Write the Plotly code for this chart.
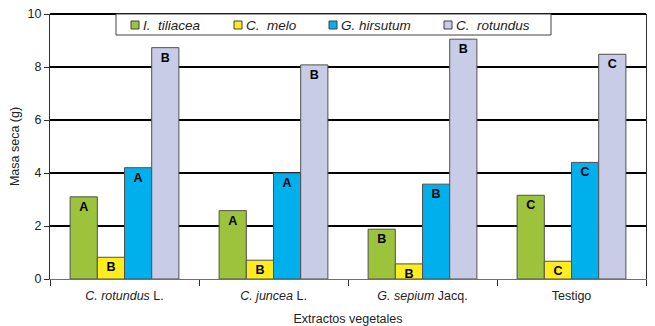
import plotly.graph_objects as go

categories = ["<i>C. rotundus</i> L.", "<i>C. juncea</i> L.", "<i>G. sepium</i> Jacq.", "Testigo"]
series_names = ["<i>I.  tiliacea</i>", "<i>C.  melo</i>", "<i>G. hirsutum</i>", "<i>C.  rotundus</i>"]
tiliacea = [3.1, 2.58, 1.88, 3.16]
melo = [0.82, 0.71, 0.57, 0.67]
hirsutum = [4.2, 4.0, 3.58, 4.4]
rotundus = [8.73, 8.08, 9.05, 8.48]
lab_tiliacea = ["A", "A", "B", "C"]
lab_melo = ["B", "B", "B", "C"]
lab_hirsutum = ["A", "A", "B", "C"]
lab_rotundus = ["B", "B", "B", "C"]
colors = ["#9dc33c", "#ffec1e", "#00b0ec", "#c8cce6"]

# page offset (default body margin) compensation
OFF = 8
W, H = 655 - OFF, 326 - OFF
PLOT_L, PLOT_R, PLOT_T, PLOT_B = 50, 646, 14, 279  # target page pixels
ML, MT = PLOT_L - OFF, PLOT_T - OFF
MR = W - (PLOT_R - OFF)
MB = H - (PLOT_B - OFF)
PW, PH = PLOT_R - PLOT_L, PLOT_B - PLOT_T


def px_x(px):
    return (px - PLOT_L) / PW


def px_y(py):
    return (PLOT_B - py) / PH


FONT = "Liberation Sans, Arial, sans-serif"
fig = go.Figure()
for name, vals, labs, col in zip(series_names,
                                 [tiliacea, melo, hirsutum, rotundus],
                                 [lab_tiliacea, lab_melo, lab_hirsutum, lab_rotundus],
                                 colors):
    fig.add_trace(go.Bar(
        x=categories, y=vals, name=name, showlegend=False,
        marker=dict(color=col, line=dict(color="#505050", width=1)),
        text=[f"<b>{l}</b>" for l in labs],
        textposition="inside", insidetextanchor="end",
        textfont=dict(family=FONT, size=12.5, color="black"),
        textangle=0, constraintext="none",
    ))

# top frame line (coincides with the 10 gridline)
shapes = [dict(type="line", xref="paper", yref="paper", x0=0, x1=1, y0=1, y1=1,
               line=dict(color="black", width=2), layer="below")]
# manual legend (box + swatches + labels)
shapes.append(dict(type="rect", xref="paper", yref="paper",
                   x0=px_x(116), x1=px_x(551), y0=px_y(35), y1=px_y(14),
                   fillcolor="white", line=dict(color="#404040", width=1), layer="above"))
annotations = []
legend_x = [131, 234, 329, 444]
for name, col, lx in zip(series_names, colors, legend_x):
    shapes.append(dict(type="rect", xref="paper", yref="paper",
                       x0=px_x(lx), x1=px_x(lx + 8), y0=px_y(29), y1=px_y(21),
                       fillcolor=col, line=dict(color="#404040", width=1), layer="above"))
    annotations.append(dict(xref="paper", yref="paper", x=px_x(lx + 10), y=px_y(25),
                            xanchor="left", yanchor="middle", showarrow=False,
                            text=name, font=dict(family=FONT, size=13.5, color="#222")))

fig.update_layout(
    width=W, height=H,
    margin=dict(l=ML, r=MR, t=MT, b=MB, autoexpand=False),
    paper_bgcolor="white", plot_bgcolor="white",
    barmode="group", bargap=0.27, bargroupgap=0,
    font=dict(family=FONT, size=12.5, color="#222"),
    showlegend=False,
    shapes=shapes, annotations=annotations,
    xaxis=dict(showline=True, linecolor="#707070", linewidth=1, automargin=False,
               ticks="outside", tickson="boundaries", ticklen=6, tickcolor="#303030",
               ticklabeloverflow="allow", ticklabelstandoff=5,
               title=dict(text="Extractos vegetales", standoff=13,
                          font=dict(family=FONT, size=12.5, color="#222")),
               tickfont=dict(family=FONT, size=12.5, color="#222")),
    yaxis=dict(range=[0, 10], dtick=2, showgrid=True, gridcolor="black", gridwidth=2,
               zeroline=False, showline=True, linecolor="#303030", linewidth=1,
               mirror=True, ticks="outside", ticklen=5, tickcolor="#303030", automargin=False,
               ticklabeloverflow="allow",
               title=dict(text="Masa seca (g)", standoff=6,
                          font=dict(family=FONT, size=12.5, color="#222")),
               tickfont=dict(family=FONT, size=12.5, color="#222")),
)
fig.write_html("out.html")
